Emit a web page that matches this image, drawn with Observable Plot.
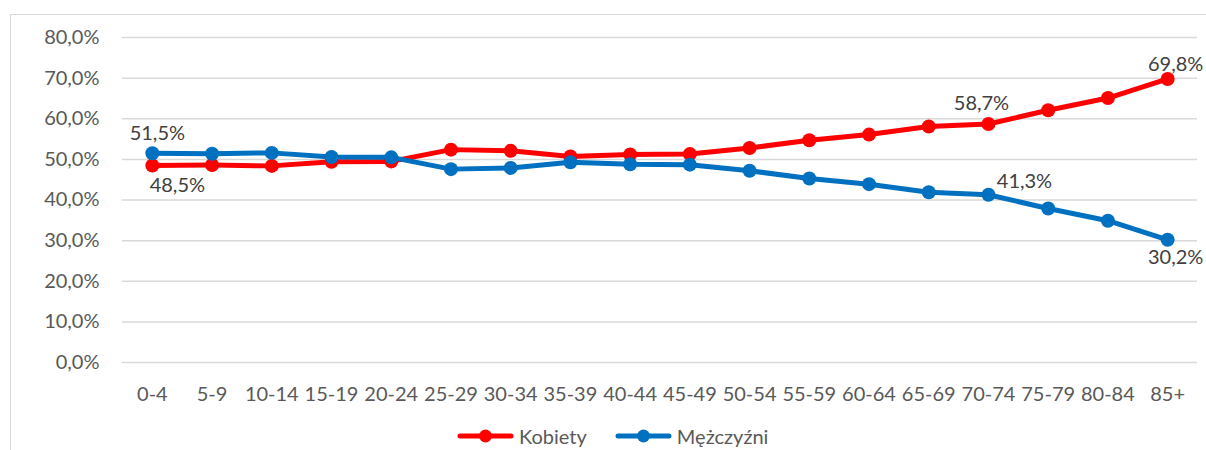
<!DOCTYPE html>
<html>
<head>
<meta charset="utf-8">
<script src="https://cdn.jsdelivr.net/npm/d3@7"></script>
<script src="https://cdn.jsdelivr.net/npm/@observablehq/plot@0.6"></script>
<style>
  body { margin: 0; background: #fff; font-family: Lato, "Open Sans", sans-serif; overflow: hidden; }
  #frame { position: absolute; left: 10px; top: 14px; width: 1200px; height: 440px;
           border-left: 1.5px solid #d9d9d9; border-top: 1.5px solid #d9d9d9; }
  #legend { position: absolute; left: 457px; top: 424px; display: flex; gap: 28px;
            font-size: 20px; color: #595959; }
  .item { display: flex; align-items: center; }
  .item svg { margin-right: 5px; }
</style>
</head>
<body>
<div id="frame">
  <div id="chart"></div>
</div>
<div id="legend"></div>
<script>
const ageGroups = ["0-4","5-9","10-14","15-19","20-24","25-29","30-34","35-39","40-44","45-49","50-54","55-59","60-64","65-69","70-74","75-79","80-84","85+"];
const kobiety =   [48.5, 48.6, 48.4, 49.4, 49.5, 52.4, 52.1, 50.7, 51.2, 51.3, 52.8, 54.7, 56.1, 58.1, 58.7, 62.1, 65.1, 69.8];
const mezczyzni = [51.5, 51.4, 51.6, 50.6, 50.5, 47.6, 47.9, 49.3, 48.8, 48.7, 47.2, 45.3, 43.9, 41.9, 41.3, 37.9, 34.9, 30.2];
const yTicks = [0, 10, 20, 30, 40, 50, 60, 70, 80];
const seriesNames = ["Kobiety", "Mężczyźni"];
const seriesColors = ["#ff0000", "#0070c0"];

const fmt = v => v.toFixed(1).replace(".", ",") + "%";
const rows = [];
ageGroups.forEach((g, i) => {
  rows.push({age: g, value: kobiety[i], series: seriesNames[0]});
  rows.push({age: g, value: mezczyzni[i], series: seriesNames[1]});
});
const lab = (series, age) => rows.filter(d => d.series === series && d.age === age);

const textStyle = {fill: "#404040", fontSize: 20, fontFamily: "Lato, 'Open Sans', sans-serif", text: d => fmt(d.value), x: "age", y: "value"};

const chart = Plot.plot({
  width: 1196, height: 400,
  marginLeft: 111, marginRight: 10, marginTop: 22, marginBottom: 53,
  style: {fontFamily: "Lato, 'Open Sans', sans-serif", fontSize: "20px", color: "#595959", background: "transparent", overflow: "visible"},
  x: {type: "point", domain: ageGroups, padding: 0.5, round: false, label: null, tickSize: 0, tickPadding: 24},
  y: {domain: [0, 80], ticks: yTicks, label: null, tickSize: 0, tickPadding: 23, tickFormat: fmt},
  color: {domain: seriesNames, range: seriesColors},
  marks: [
    Plot.ruleY(yTicks, {stroke: "#d9d9d9", strokeWidth: 1.5}),
    Plot.line(rows, {x: "age", y: "value", z: "series", stroke: "series", strokeWidth: 5}),
    Plot.dot(rows, {x: "age", y: "value", fill: "series", r: 7}),
    Plot.text(lab("Mężczyźni", "0-4"), {...textStyle, dx: 5, dy: -20}),
    Plot.text(lab("Kobiety", "0-4"), {...textStyle, dx: 25, dy: 20}),
    Plot.text(lab("Kobiety", "70-74"), {...textStyle, dx: -7, dy: -20}),
    Plot.text(lab("Mężczyźni", "70-74"), {...textStyle, dx: 36, dy: -13}),
    Plot.text(lab("Kobiety", "85+"), {...textStyle, dx: 8, dy: -14}),
    Plot.text(lab("Mężczyźni", "85+"), {...textStyle, dx: 8, dy: 18})
  ]
});
document.getElementById("chart").appendChild(chart);

const legend = document.getElementById("legend");
seriesNames.forEach((name, i) => {
  const item = document.createElement("div");
  item.className = "item";
  item.innerHTML = `<svg width="57" height="16"><line x1="3" y1="8" x2="54" y2="8" stroke="${seriesColors[i]}" stroke-width="5" stroke-linecap="round"/><circle cx="28.5" cy="8" r="6.5" fill="${seriesColors[i]}"/></svg><span>${name}</span>`;
  legend.appendChild(item);
});
</script>
</body>
</html>
